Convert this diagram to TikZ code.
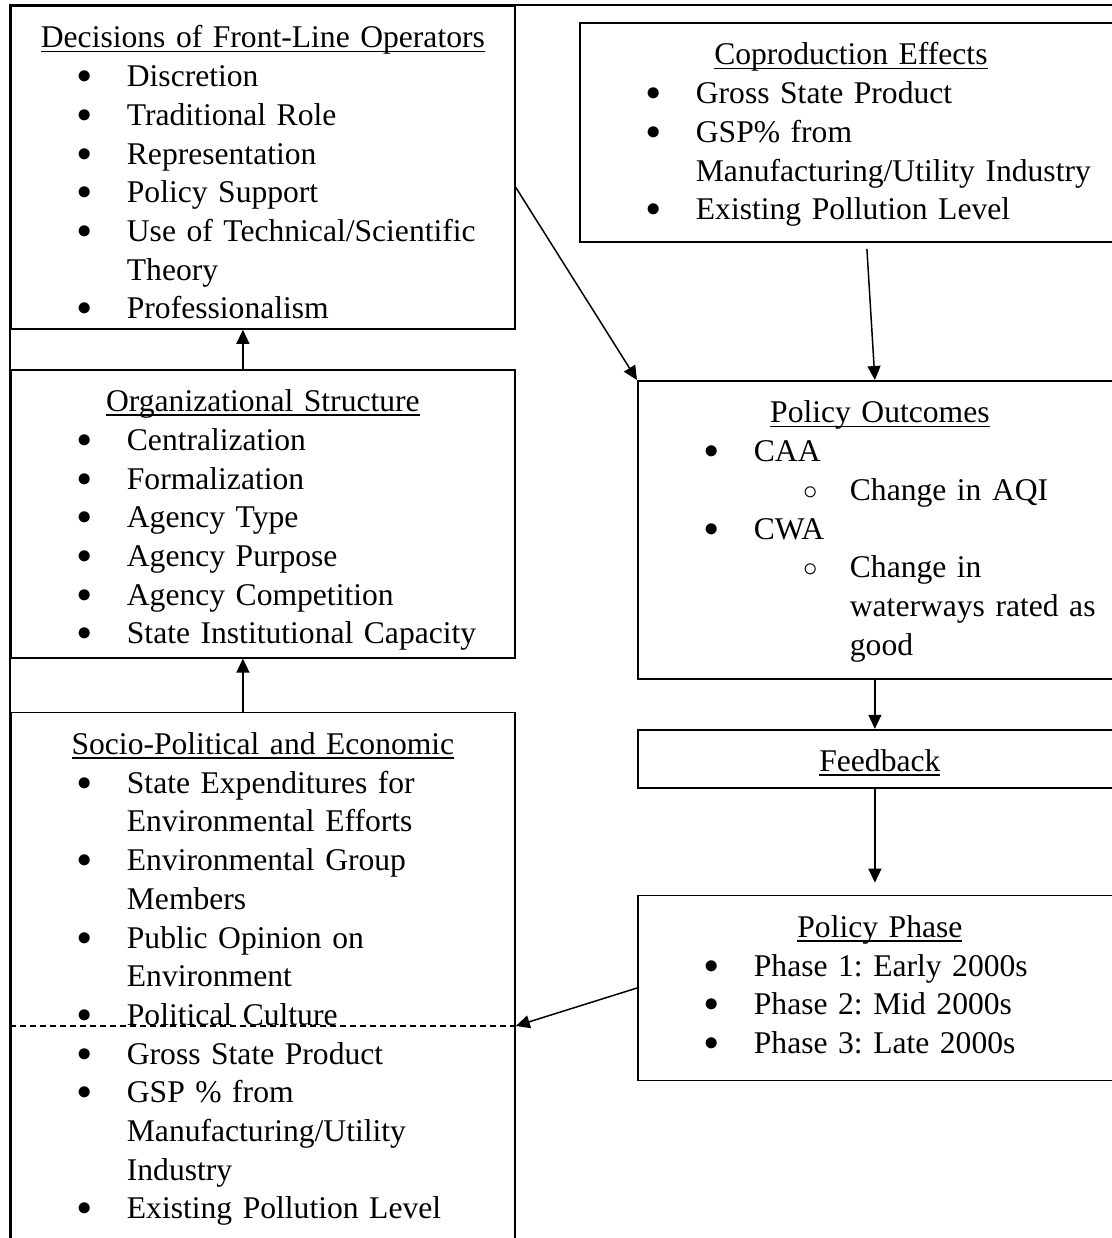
\documentclass[tikz,border=0pt]{standalone}
\usepackage{fontspec}
\setmainfont{Liberation Serif}
\usetikzlibrary{positioning, arrows.meta}
\frenchspacing

\newcommand{\boxtitle}[1]{{\centering\noindent\setbox0\hbox{#1}%
    \rlap{\rule[-2.2pt]{\wd0}{0.9pt}}\box0\par}}
\newcommand{\bitem}[1]{\leftskip=58pt\noindent
    \llap{\makebox[42pt]{\raisebox{1.5pt}{$\bullet$}}}#1\par}
\newcommand{\oitem}[1]{\leftskip=106pt\noindent
    \llap{\makebox[39.6pt]{\raisebox{0.5pt}{$\circ$}}}#1\par}

\tikzstyle{box} = [
    rectangle,
    draw=black,
    line width=0.9pt,
    anchor=north west,
    inner sep=0pt,
    text height=21pt,
    font=\fontsize{15.8}{19.35}\selectfont
]
\tikzstyle{arrow} = [line width=0.75pt,->,>={Triangle[length=7pt,width=6.5pt]}]

\begin{document}
\begin{tikzpicture}[x=0.5pt, y=-0.5pt]

\clip (0,0) rectangle (1112,1238);

\draw [line width=0.9pt] (10,1260) -- (10,5) -- (1130,5);

\node (dec) [box, text width=252pt, text depth=140.5pt] at (10,5)
{\boxtitle{Decisions of Front-Line Operators}
 \bitem{Discretion}
 \bitem{Traditional Role}
 \bitem{Representation}
 \bitem{Policy Support}
 \bitem{Use of Technical/Scientific\\Theory}
 \bitem{Professionalism}};

\node (org) [box, text width=252pt, text depth=123pt, below=19.5pt of dec]
{\boxtitle{Organizational Structure}
 \bitem{Centralization}
 \bitem{Formalization}
 \bitem{Agency Type}
 \bitem{Agency Purpose}
 \bitem{Agency Competition}
 \bitem{State Institutional Capacity}};

\node (soc) [box, text width=252pt, text depth=250pt, below=26.5pt of org]
{\boxtitle{Socio-Political and Economic}
 \bitem{State Expenditures for\\Environmental Efforts}
 \bitem{Environmental Group\\Members}
 \bitem{Public Opinion on\\Environment}
 \bitem{Political Culture}
 \bitem{Gross State Product}
 \bitem{GSP \% from\\Manufacturing/Utility\\Industry}
 \bitem{Existing Pollution Level}};

\node (cop) [box, text width=271pt, text depth=88.5pt] at (579,22)
{\boxtitle{Coproduction Effects}
 \bitem{Gross State Product}
 \bitem{GSP\% from\\Manufacturing/Utility Industry}
 \bitem{Existing Pollution Level}};

\node (out) [box, text width=242pt, text depth=128pt] at (637,380)
{\boxtitle{Policy Outcomes}
 \bitem{CAA}
 \oitem{Change in AQI}
 \bitem{CWA}
 \oitem{Change in\\waterways rated as\\good}};

\node (fb) [box, text width=242pt, text depth=8pt, below=24.5pt of out]
{\boxtitle{Feedback}};

\node (pha) [box, text width=242pt, text depth=71.5pt, below=53pt of fb]
{\boxtitle{Policy Phase}
 \bitem{Phase 1: Early 2000s}
 \bitem{Phase 2: Mid 2000s}
 \bitem{Phase 3: Late 2000s}};

\coordinate (cutL) at (10,1026);
\coordinate (cutR) at (soc.east |- cutL);
\draw [line width=0.75pt, dash pattern=on 3pt off 2pt] (cutL) -- (cutR);

\draw [arrow] ([xshift=-10pt]org.north) -- ([xshift=-10pt]dec.south);
\draw [arrow] ([xshift=-10pt]soc.north) -- ([xshift=-10pt]org.south);
\draw [arrow] ([yshift=-10pt]dec.east) -- (out.north west);
\draw [arrow] ([xshift=8pt,yshift=-3pt]cop.south) -- ([xshift=-2.5pt]out.north);
\draw [arrow] ([xshift=-2.5pt]out.south) -- ([xshift=-2.5pt]fb.north);
\draw [arrow] ([xshift=-2.5pt]fb.south) -- ([xshift=-2.5pt,yshift=6pt]pha.north);
\draw [arrow] (pha.west) -- (cutR);

\end{tikzpicture}
\end{document}
